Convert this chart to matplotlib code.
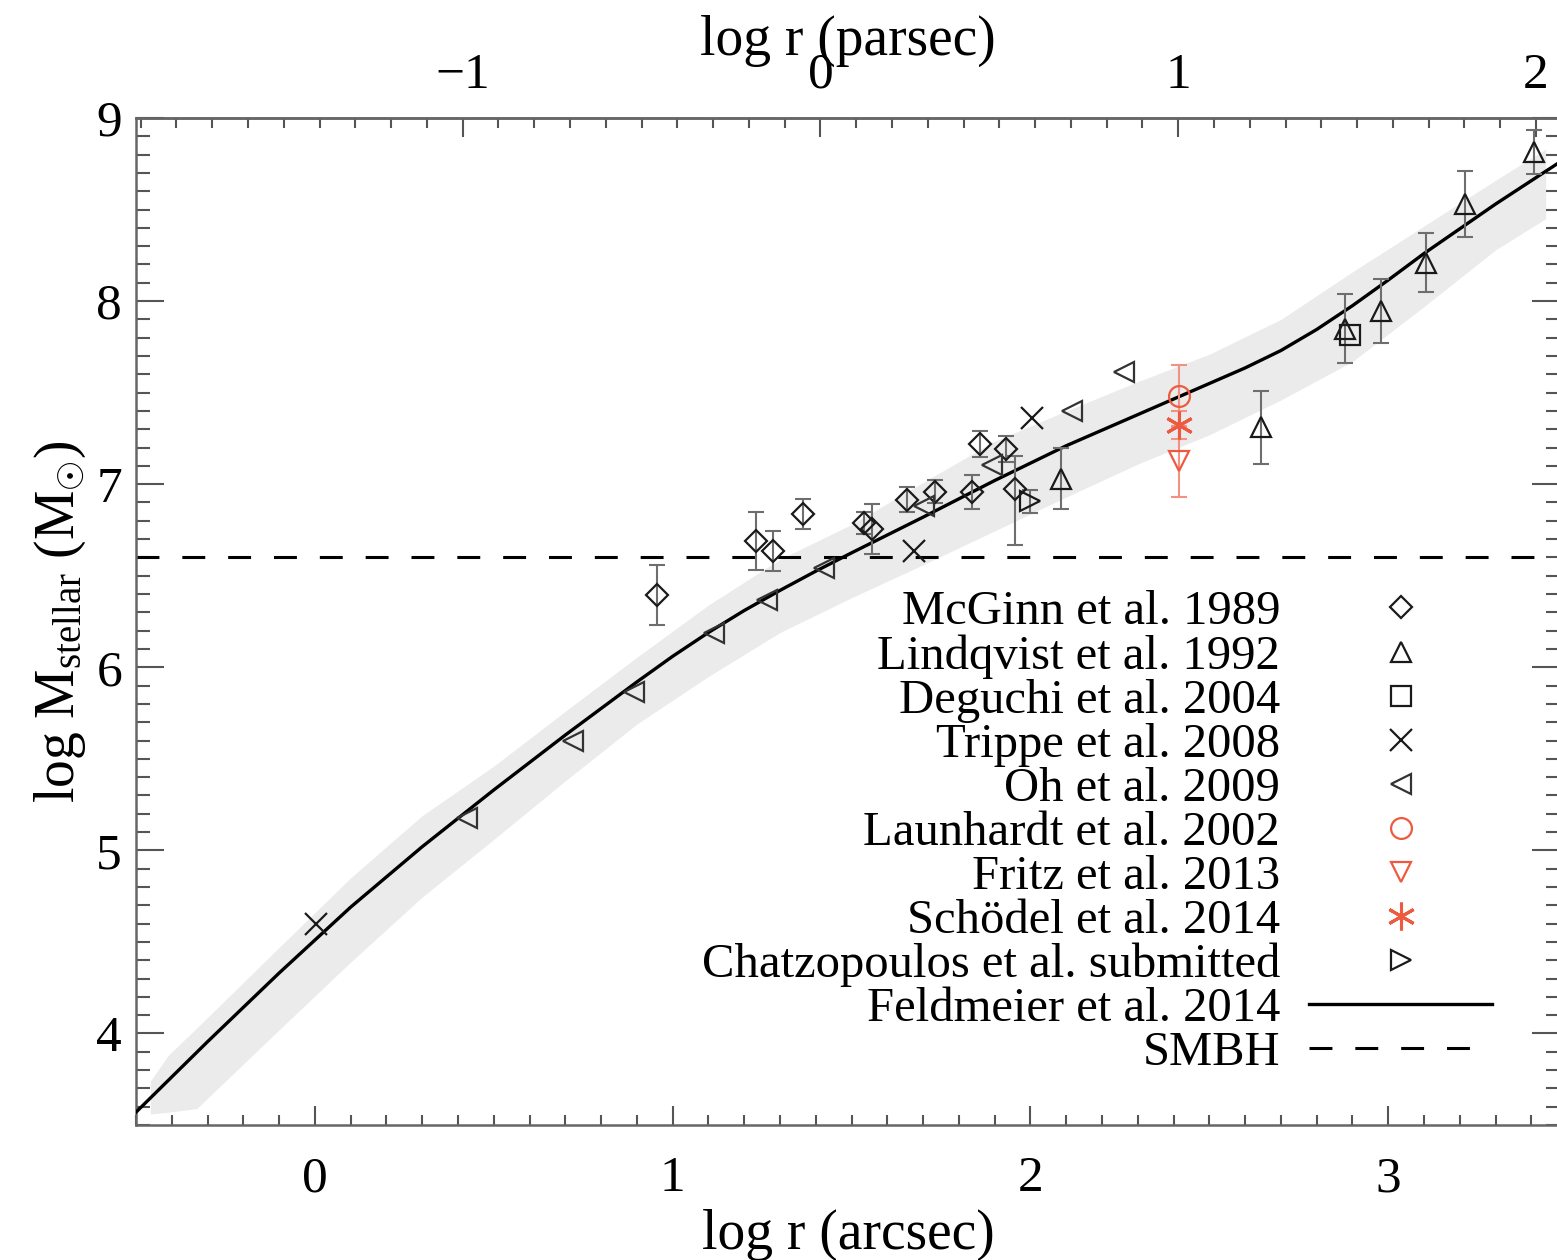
import numpy as np
import matplotlib.pyplot as plt
from matplotlib.ticker import MultipleLocator

plt.rcParams['font.family'] = ['Liberation Serif', 'DejaVu Serif']
plt.rcParams['mathtext.fontset'] = 'custom'
plt.rcParams['mathtext.rm'] = 'Liberation Serif'
plt.rcParams['mathtext.it'] = 'Liberation Serif:italic'

# log r (arcsec) -> log r (parsec) offset (1 pc ~ 25.9" at the Galactic Centre)
PC_OFFSET = 1.413
SMBH = 6.60

# Feldmeier et al. 2014 profile and its uncertainty band
curve_x = [-0.50, -0.30, -0.10, 0.10, 0.30, 0.50, 0.70, 0.90, 1.00, 1.10, 1.20,
           1.30, 1.40, 1.50, 1.70, 1.90, 2.10, 2.30, 2.50, 2.60, 2.70, 2.80,
           2.90, 3.00, 3.10, 3.30, 3.48]
curve_y = [3.57, 3.955, 4.33, 4.69, 5.02, 5.33, 5.63, 5.92, 6.06, 6.19, 6.31,
           6.42, 6.525, 6.625, 6.82, 7.02, 7.21, 7.38, 7.55, 7.635, 7.73, 7.845,
           7.975, 8.115, 8.26, 8.53, 8.76]
band_x = [-0.46, -0.41, -0.33, -0.10, 0.10, 0.30, 0.50, 0.70, 0.90, 1.10, 1.30,
          1.50, 1.70, 1.90, 2.10, 2.30, 2.50, 2.70, 2.90, 3.10, 3.30, 3.44]
band_lo = [3.56, 3.57, 3.59, 4.02, 4.39, 4.745, 5.06, 5.38, 5.69, 5.95, 6.19,
           6.38, 6.56, 6.745, 6.93, 7.11, 7.27, 7.46, 7.67, 7.97, 8.28, 8.45]
band_hi = [3.74, 3.88, 4.03, 4.47, 4.85, 5.19, 5.46, 5.76, 6.055, 6.34, 6.59,
           6.78, 7.01, 7.235, 7.40, 7.56, 7.71, 7.90, 8.16, 8.41, 8.66, 8.83]

# McGinn et al. 1989
mcginn_x = [0.957, 1.232, 1.281, 1.365, 1.534, 1.558, 1.655, 1.734, 1.837, 1.860, 1.931, 1.957]
mcginn_y = [6.396, 6.690, 6.635, 6.835, 6.788, 6.755, 6.915, 6.960, 6.957, 7.220, 7.191, 6.975]
mcginn_elo = [0.164, 0.160, 0.107, 0.082, 0.060, 0.137, 0.067, 0.065, 0.091, 0.070, 0.070, 0.305]
mcginn_ehi = [0.164, 0.160, 0.107, 0.082, 0.060, 0.137, 0.067, 0.065, 0.091, 0.070, 0.070, 0.178]

# Lindqvist et al. 1992
lindq_x = [2.086, 2.645, 2.880, 2.980, 3.105, 3.215, 3.406]
lindq_y = [7.030, 7.310, 7.850, 7.945, 8.210, 8.530, 8.815]
lindq_err = [0.167, 0.200, 0.190, 0.173, 0.160, 0.178, 0.122]

# Deguchi et al. 2004
deguchi_x = [2.892]
deguchi_y = [7.815]

# Trippe et al. 2008
trippe_x = [0.003, 1.674, 2.004]
trippe_y = [4.600, 6.635, 7.361]

# Oh et al. 2009
oh_x = [0.426, 0.720, 0.892, 1.115, 1.264, 1.423, 1.702, 1.893, 2.116, 2.261]
oh_y = [5.177, 5.600, 5.863, 6.187, 6.369, 6.542, 6.879, 7.106, 7.397, 7.610]

# red points at one radius
launhardt_x, launhardt_y, launhardt_err = [2.414], [7.480], [0.170]
fritz_x, fritz_y, fritz_err = [2.414], [7.125], [0.195]
schoedel_x, schoedel_y, schoedel_err = [2.414], [7.324], [0.075]

# Chatzopoulos et al. submitted
chatz_x, chatz_y, chatz_err = [2.000], [6.906], [0.063]

RED = '#ee5a3f'
RED_ERR = '#f39182'
GREY_ERR = '#6e6e6e'
MK = '#1a1a1a'

fig = plt.figure(figsize=(15.57, 12.6), dpi=100)
ax = fig.add_axes([136/1557, 1 - 1125/1260, (1560 - 136)/1557, (1125 - 118)/1260])

ax.fill_between(band_x, band_lo, band_hi, color='#ebebeb', lw=0, zorder=1)
feld, = ax.plot(curve_x, curve_y, color='black', lw=2.4, zorder=3,
                label='Feldmeier et al. 2014')
smbh = ax.axhline(SMBH, color='black', lw=2.2, dashes=(7.5, 7.5), zorder=2,
                  label='SMBH')

ebk = dict(fmt='none', capsize=6, elinewidth=1.5, capthick=1.5, zorder=4)
ax.errorbar(mcginn_x, mcginn_y, yerr=[mcginn_elo, mcginn_ehi], ecolor=GREY_ERR, **ebk)
ax.errorbar(lindq_x, lindq_y, yerr=lindq_err, ecolor=GREY_ERR, **ebk)
ax.errorbar(chatz_x, chatz_y, yerr=chatz_err, ecolor=GREY_ERR, **ebk)
ax.errorbar(launhardt_x, launhardt_y, yerr=launhardt_err, ecolor=RED_ERR, **ebk)
ax.errorbar(fritz_x, fritz_y, yerr=fritz_err, ecolor=RED_ERR, **ebk)
ax.errorbar(schoedel_x, schoedel_y, yerr=schoedel_err, ecolor=RED_ERR, **ebk)

mk = dict(ls='none', mfc='none', mew=1.6, zorder=5)
h1, = ax.plot(mcginn_x, mcginn_y, 'D', ms=11, mec=MK, label='McGinn et al. 1989', **mk)
h2, = ax.plot(lindq_x, lindq_y, '^', ms=15, mec=MK, label='Lindqvist et al. 1992', **mk)
h3, = ax.plot(deguchi_x, deguchi_y, 's', ms=15, mec=MK, label='Deguchi et al. 2004', **mk)
h4, = ax.plot(trippe_x, trippe_y, 'x', ms=16, mec=MK, label='Trippe et al. 2008', **mk)
h5, = ax.plot(oh_x, oh_y, '<', ms=15, mec='#333333', label='Oh et al. 2009', **mk)
h6, = ax.plot(launhardt_x, launhardt_y, 'o', ms=15, mec=RED, label='Launhardt et al. 2002', **mk)
h7, = ax.plot(fritz_x, fritz_y, 'v', ms=15, mec=RED, label='Fritz et al. 2013', **mk)
h8, = ax.plot(schoedel_x, schoedel_y, marker=(6, 2, 0), ms=20, mec=RED,
              label='Schödel et al. 2014', ls='none', mfc='none', mew=2.2, zorder=5)
h9, = ax.plot(chatz_x, chatz_y, '>', ms=15, mec=MK, label='Chatzopoulos et al. submitted', **mk)

ax.set_xlim(-0.5, 3.48)
ax.set_ylim(3.5, 9.0)
ax.xaxis.set_major_locator(MultipleLocator(1))
ax.xaxis.set_minor_locator(MultipleLocator(0.1))
ax.yaxis.set_major_locator(MultipleLocator(1))
ax.yaxis.set_minor_locator(MultipleLocator(0.1))
ax.tick_params(which='both', direction='in', top=False, right=True,
               color='#555555', width=1.5, labelsize=37)
ax.tick_params(axis='x', which='major', length=14, pad=22)
ax.tick_params(axis='x', which='minor', length=7)
ax.tick_params(axis='y', which='major', length=20, pad=10)
ax.tick_params(axis='y', which='minor', length=10)
for s in ax.spines.values():
    s.set_color('#666666')
    s.set_linewidth(1.8)

sec = ax.secondary_xaxis('top', functions=(lambda x: x - PC_OFFSET,
                                           lambda x: x + PC_OFFSET))
sec.xaxis.set_major_locator(MultipleLocator(1))
sec.xaxis.set_minor_locator(MultipleLocator(0.1))
sec.tick_params(which='both', direction='in', color='#555555', width=1.5, labelsize=37)
sec.tick_params(which='major', length=14, pad=14)
sec.tick_params(which='minor', length=7)
sec.spines['top'].set_color('#666666')
sec.spines['top'].set_linewidth(1.8)
sec.set_xlabel('log r (parsec)', fontsize=40, labelpad=-2)

ax.set_xlabel('log r (arcsec)', fontsize=40, labelpad=5)
ax.set_ylabel(r'log M$_{\rm stellar}$ (M$_{\odot}$)', fontsize=40, labelpad=6)

handles = [h1, h2, h3, h4, h5, h6, h7, h8, h9, feld, smbh]
ax.legend(handles=handles, loc='upper right', bbox_to_anchor=(1492/1557, 1 - 590/1260),
          bbox_transform=fig.transFigure, frameon=False, fontsize=35,
          markerfirst=False, handlelength=3.76, handletextpad=0.6,
          labelspacing=0.0, borderpad=0, borderaxespad=0)

fig.savefig('out.png', dpi=100)
